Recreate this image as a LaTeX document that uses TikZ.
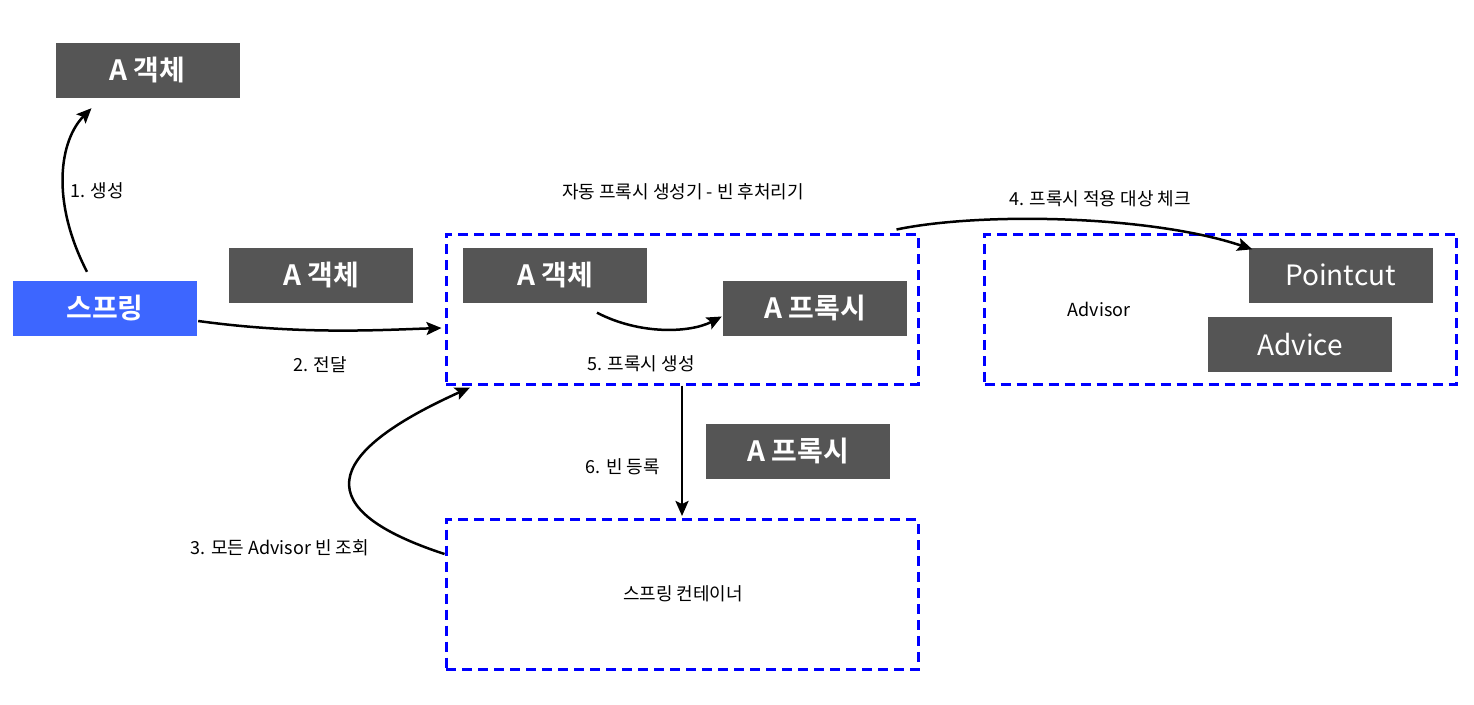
\documentclass[tikz,border=0pt]{standalone}
\usepackage{fontspec}
\setmainfont{Noto Sans CJK KR}[BoldFont={Noto Sans CJK KR Bold}]
\usetikzlibrary{arrows.meta,calc}
\definecolor{boxgray}{HTML}{555555}
\definecolor{springblue}{HTML}{3D66FF}
\definecolor{dashblue}{HTML}{0000FF}
\begin{document}
\begin{tikzpicture}[x=1pt,y=-1pt,
  gbox/.style={fill=boxgray,text=white,minimum width=184pt,minimum height=55pt,inner sep=0pt,font=\fontsize{28}{30}\selectfont\bfseries},
  bigbox/.style={gbox,font=\fontsize{28}{32}\selectfont},
  dbox/.style={draw=dashblue,line width=3pt,dash pattern=on 10pt off 6pt,minimum width=472pt,minimum height=150pt,inner sep=0pt},
  lbl/.style={font=\fontsize{18}{20}\selectfont,inner sep=0pt},
  arr/.style={line width=2.5pt,-{Stealth[length=15pt,width=13pt,inset=3pt]}}]
\useasboundingbox (0,0) rectangle (1474,704);
% dashed containers
\node[dbox] (auto) at (682,309) {};
\node[dbox] (advisor) at (1220.5,309) {};
\node[dbox] (container) at (682,594.5) {};
% boxes
\node[gbox] (aobj1) at (147.5,70.5) {A 객체};
\node[gbox,fill=springblue] (spring) at (105,308.5) {스프링};
\node[gbox] (aobj2) at (321,275) {A 객체};
\node[gbox] (aobj3) at (555,275) {A 객체};
\node[gbox] (aproxy1) at (815,308.5) {A 프록시};
\node[gbox] (aproxy2) at (798,451.5) {A 프록시};
\node[bigbox] (pointcut) at (1340.5,275) {Pointcut};
\node[bigbox] (advice) at (1300,344.5) {Advice};
% labels
\node[lbl] (title) at (683,192) {자동 프록시 생성기 - 빈 후처리기};
\node[lbl] (l1) at (97,191) {1. 생성};
\node[lbl] (l2) at (320,365) {2. 전달};
\node[lbl] (l3) at (280,548) {3. 모든 Advisor 빈 조회};
\node[lbl] (l4) at (1100,199) {4. 프록시 적용 대상 체크};
\node[lbl] (l5) at (641,364) {5. 프록시 생성};
\node[lbl] (l6) at (623,467) {6. 빈 등록};
\node[lbl] (ladv) at (1099,309) {Advisor};
\node[lbl] (lcont) at (683,594) {스프링 컨테이너};
% connectors
\coordinate (s1) at ([shift={(-18,-9)}]spring.north);
\coordinate (e1) at ([shift={(-56,10)}]aobj1.south);
\draw[arr] (s1) .. controls (50,200) and (60,140) .. (e1);
\coordinate (s2) at ([shift={(1,12.5)}]spring.east);
\coordinate (e2) at ([shift={(-3,19)}]auto.west);
\draw[arr] (s2) .. controls (300,335) and (380,330) .. (e2);
\coordinate (s3) at ([shift={(0,-40.5)}]container.west);
\coordinate (e3) at ([shift={(-212,2)}]auto.south);
\draw[arr] (s3) .. controls (310,510) and (320,455) .. (e3);
\coordinate (s4) at ([shift={(-23,-3)}]auto.north east);
\coordinate (e4) at ([shift={(4,2)}]pointcut.north west);
\draw[arr] (s4) .. controls (980,212) and (1150,215) .. (e4);
\coordinate (s5) at ([shift={(42,10)}]aobj3.south);
\draw[arr] (s5) .. controls (640,335) and (690,333) .. ([xshift=-1pt,yshift=-8pt]aproxy1.west);
\draw[arr] (auto.south) -- ([yshift=2pt]container.north);
\end{tikzpicture}
\end{document}
